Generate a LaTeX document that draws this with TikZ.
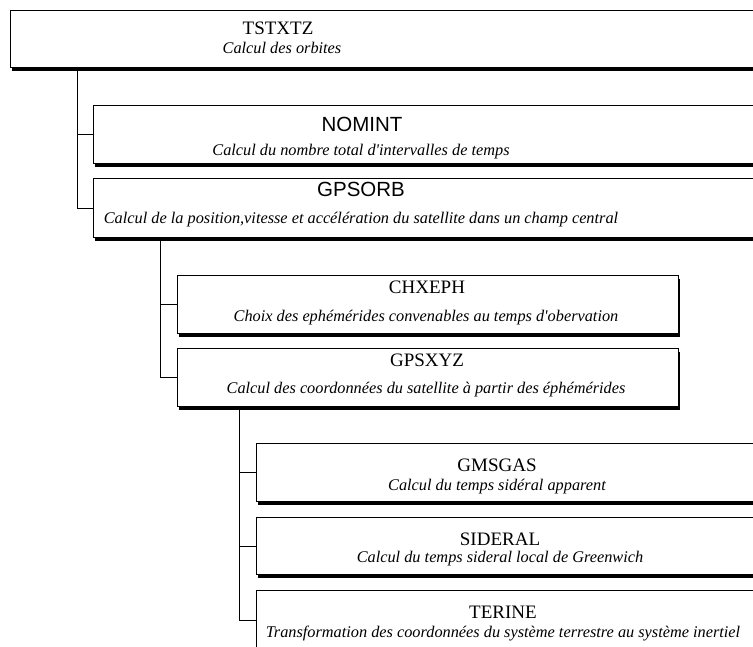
\documentclass[tikz,border=0pt]{standalone}
\usepackage{fontspec}
\setmainfont{Liberation Serif}[Ligatures=TeXOff]
\newfontfamily\arialf{Liberation Sans}
\usetikzlibrary{shadows}
\tikzset{
  box/.style={draw=black, line width=0.9pt, fill=white, rectangle, anchor=north west, inner sep=0pt,
    drop shadow={shadow xshift=1.5pt, shadow yshift=-3.5pt, fill=black, opacity=1}},
  ttl/.style={anchor=base, inner sep=0pt, font=\fontsize{19}{21}\selectfont},
  attl/.style={anchor=base, inner sep=0pt, font=\arialf\fontsize{20.5}{22}\selectfont},
  dsc/.style={anchor=base, inner sep=0pt, font=\itshape\fontsize{16.3}{18}\selectfont},
  conn/.style={draw=black, line width=0.9pt}
}
\begin{document}
\begin{tikzpicture}[x=1pt,y=-1pt]
\useasboundingbox (0,0) rectangle (753,646);
\clip (0,0) rectangle (753,646);
\fill[white] (0,0) rectangle (753,646);
% rail coordinates
\coordinate (r1) at (77,0);
\coordinate (r2) at (160,0);
\coordinate (r3) at (239,0);
% boxes
\node[box, minimum width=800pt, minimum height=57pt] (tst) at (10,10) {};
\node[box, minimum width=800pt, minimum height=58pt] (nom) at (93,105) {};
\node[box, minimum width=800pt, minimum height=59pt] (gor) at (93,178) {};
\node[box, minimum width=501pt, minimum height=58pt] (chx) at (177,275) {};
\node[box, minimum width=501pt, minimum height=58pt] (gxy) at (177,348) {};
\node[box, minimum width=800pt, minimum height=58pt] (gms) at (256,443) {};
\node[box, minimum width=800pt, minimum height=57pt] (sid) at (256,517) {};
\node[box, minimum width=800pt, minimum height=60pt] (ter) at (256,590) {};
% connectors
\draw[conn] (tst.south -| r1) |- (gor.west);
\draw[conn] (nom.west -| r1) -- (nom.west);
\draw[conn] (gor.south -| r2) |- (gxy.west);
\draw[conn] (chx.west -| r2) -- (chx.west);
\draw[conn] (gxy.south -| r3) |- (ter.west);
\draw[conn] (gms.west -| r3) -- (gms.west);
\draw[conn] (sid.west -| r3) -- (sid.west);
% texts
\node[ttl] (t1) at (278,34) {TSTXTZ};
\node[dsc] (d1) at (282,53) {Calcul des orbites};
\node[attl] (t2) at (362,131.5) {NOMINT};
\node[dsc] (d2) at (361,155) {Calcul du nombre total d'intervalles de temps};
\node[attl] (t3) at (361,196.5) {GPSORB};
\node[dsc] (d3) at (361,223) {Calcul de la position,vitesse et accélération du satellite dans un champ central};
\node[ttl] (t4) at (427,293) {CHXEPH};
\node[dsc] (d4) at (426,321) {Choix des ephémérides convenables au temps d'obervation};
\node[ttl] (t5) at (427,366.5) {GPSXYZ};
\node[dsc] (d5) at (426,393) {Calcul des coordonnées du satellite à partir des éphémérides};
\node[ttl] (t6) at (497,471.5) {GMSGAS};
\node[dsc] (d6) at (497,490) {Calcul du temps sidéral apparent};
\node[ttl] (t7) at (500,545) {SIDERAL};
\node[dsc] (d7) at (500,562) {Calcul du temps sideral local de Greenwich};
\node[ttl] (t8) at (503,618) {TERINE};
\node[dsc] (d8) at (503,637) {Transformation des coordonnées du système terrestre au système inertiel};
\end{tikzpicture}
\end{document}
